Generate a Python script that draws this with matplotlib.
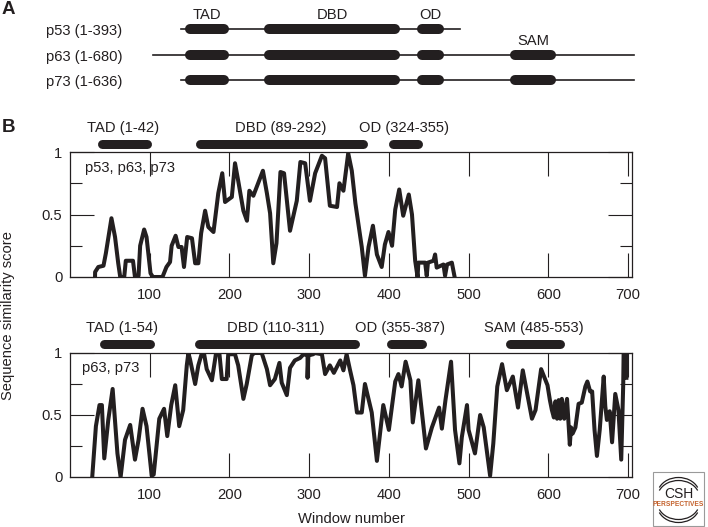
import numpy as np
import matplotlib
matplotlib.use("Agg")
import matplotlib.pyplot as plt
from matplotlib.patches import Rectangle, Arc

plt.rcParams['font.family'] = ['Liberation Sans', 'DejaVu Sans']
INK = '#231f20'
W, H = 708, 527

# Panel B series
x_all = [31.4,31.5,35.5,42,45,49,52,56.5,60.5,63,68,70,79,81.5,86,88,93,96,101,104,116,121,125.5,127.5,132.5,136,140,143,147,153,157,161,164.5,169.5,173.5,180,186,191,194.5,203,207,211,217.5,222,225,230,236,242,247,251,255,259,264,268.5,276,284.5,289,295,301,307.5,316,320,326,335,338,343,349,353.5,358,366,370,374.5,380,385,391,395,399.5,404,408,413,418,425,429,433,436,437,445.5,447.5,449,456,458,460,468.5,470.5,473,479,482.5]
y_all = [0,.04,.08,.09,.19,.35,.47,.32,.11,0,0,.13,.13,0,.01,.25,.38,.32,.03,0,0,.08,.12,.25,.33,.24,.24,.08,.32,.31,.11,.11,.35,.53,.40,.36,.67,.83,.60,.64,.91,.77,.53,.45,.69,.65,.75,.85,.67,.51,.11,.27,.84,.83,.37,.61,.92,.91,.61,.83,.97,.95,.57,.56,.75,.69,.99,.85,.59,.24,.01,.24,.41,.18,.08,.26,.36,.25,.54,.70,.49,.66,.50,.13,0,.115,.115,.01,.115,.13,.18,.075,.10,.01,.10,.115,0]

x_pair = [28,32.5,37,40,43,48,53.5,59.5,63.5,69,75.5,81.5,86,91,96,102.5,105,112,118,122,127,132,137,142,146.5,148.5,150.5,157,161,165,168,171.5,178,183,187.5,190.5,196.5,198.5,207,211,217.5,221.7,228,231,240.5,243,247,251,257,262.7,265.6,272,276,282,288.6,293,298,298,299,305,307,316,320,326,331,339,343,347,351,355.6,360,366,370,378.5,385,393,400,408,412,416,421,427,430,437,446.5,454,463,466.5,471,478,483,488.5,491.5,498,500,508,514.5,519,527,531,536,542,548,555.5,562,568,579.5,584,591,599,602,604.5,607,609,611,613,615,617,620,623.5,627,628.5,630.5,634,638,642,646.5,649,652.5,655,658,661,664.5,669.5,671.5,673.5,677,680,684,688,691.5,694,694.5,698,698]
y_pair = [.01,.41,.58,.58,.15,.46,.71,.19,0,.30,.42,.14,.30,.55,.41,.01,.02,.47,.55,.33,.58,.74,.41,.54,.90,1,.95,.75,.90,.99,1,.87,.78,.99,.99,.79,.79,.99,.99,.90,.63,.75,.98,1,1,.95,.87,.74,.79,.92,.76,.66,.88,.94,.96,.99,.98,.80,.98,.99,1,.99,.83,.90,.84,.94,.86,.99,.87,.74,.52,.52,.75,.52,.13,.58,.38,.77,.83,.73,.93,.78,.44,.78,.23,.40,.56,.39,.62,.93,.38,.11,.32,.58,.38,.19,.50,.40,.01,.27,.73,.91,.70,.81,.56,.86,.47,.54,.87,.74,.62,.54,.48,.61,.47,.62,.47,.63,.47,.63,.26,.40,.35,.40,.59,.60,.73,.77,.69,.69,.38,.17,.38,.81,.57,.46,.53,.28,.67,.54,.14,.75,1,1,.8]

major_x = [100, 200, 300, 400, 500, 600, 700]
minor_x_top = [150, 250, 350, 450, 550, 650]
minor_x_bottom = [50, 150, 250, 350, 450, 550, 650]
y_major = [0, 0.5, 1]
y_labels = ['0', '0.5', '1']
y_minor = [0.25, 0.75]

# Panel A content: (name, line start, line end) in page pixels
proteins = ['p53 (1-393)', 'p63 (1-680)', 'p73 (1-636)']
protein_y = [29, 55, 80]
line_start = [181, 153, 181]
line_end = [460, 634, 634]
domains_a = {'TAD': (185, 229), 'DBD': (264, 400), 'OD': (417, 444)}
sam_a = (510, 556)

# Domain bars above panel B plots
bars_1 = [('TAD (1-42)', 97, 151, 123), ('DBD (89-292)', 195, 367, 281), ('OD (324-355)', 388, 422, 404)]
bars_2 = [('TAD (1-54)', 99, 154, 122), ('DBD (110-311)', 194, 359, 276),
          ('OD (355-387)', 386, 426, 400), ('SAM (485-553)', 505, 564, 534)]

fig = plt.figure(figsize=(W/100, H/100), dpi=100)
px = 72/100
FS = 10.6

def make_axes(top, bottom, xs, ys, minor_bottom):
    ax = fig.add_axes([70/W, 1-bottom/H, 562/W, (bottom-top)/H])
    ax.plot(xs, ys, color=INK, lw=2.9, solid_joinstyle='round')
    ax.set_xlim(0, 705)
    ax.set_ylim(0, 1)
    ax.set_xticks(major_x)
    ax.set_xticks(sorted(set(minor_bottom) | set(minor_x_top)), minor=True)
    ax.set_yticks(y_major, y_labels)
    ax.set_yticks(y_minor, minor=True)
    ax.tick_params(axis='x', which='major', direction='in', length=24*px, width=0.8, top=True, color=INK,
                   labelsize=FS, labelcolor=INK, pad=8)
    ax.tick_params(axis='x', which='minor', direction='in', length=12*px, width=0.8, top=True, color=INK)
    ax.tick_params(axis='y', which='major', direction='in', length=24*px, width=0.8, right=True, color=INK,
                   labelsize=FS, labelcolor=INK, pad=5.5)
    ax.tick_params(axis='y', which='minor', direction='in', length=12*px, width=0.8, right=True, color=INK)
    for t in ax.xaxis.get_major_ticks():
        if t.get_loc() == 100:
            t.tick1line.set_visible(False)
            t.tick2line.set_visible(False)
    for t in ax.xaxis.get_minor_ticks():
        if t.get_loc() not in minor_bottom:
            t.tick1line.set_visible(False)
        if t.get_loc() not in minor_x_top:
            t.tick2line.set_visible(False)
    for s in ax.spines.values():
        s.set_color(INK)
        s.set_linewidth(0.9)
    ax.patch.set_alpha(0)
    return ax

make_axes(152, 277, x_all, y_all, minor_x_top)
make_axes(353, 477, x_pair, y_pair, minor_x_bottom)

# Page-pixel overlay
ov = fig.add_axes([0, 0, 1, 1])
ov.set_xlim(0, W)
ov.set_ylim(H, 0)
ov.axis('off')
ov.patch.set_alpha(0)

def bar(x0, x1, y, h=9):
    ov.plot([x0+h/2, x1-h/2], [y, y], color=INK, lw=h*px, solid_capstyle='round')

def txt(x, y, s, size=FS, ha='center', **kw):
    ov.text(x, y, s, fontsize=size, ha=ha, va='center', color=INK, **kw)

txt(2, 9, 'A', size=13.5, ha='left', fontweight='bold')
txt(2, 128, 'B', size=13.5, ha='left', fontweight='bold')
for name, y, a, b in zip(proteins, protein_y, line_start, line_end):
    txt(46, y+2, name, ha='left')
    ov.plot([a, b], [y, y], color=INK, lw=1.2)
    for d0, d1 in domains_a.values():
        bar(d0, d1, y, h=10)
for y in protein_y[1:]:
    bar(sam_a[0], sam_a[1], y, h=10)
for name, (d0, d1) in domains_a.items():
    txt((d0+d1)/2, 15, name)
txt(533, 41, 'SAM')

for name, a, b, c in bars_1:
    bar(a, b, 144)
    txt(c, 128, name)
for name, a, b, c in bars_2:
    bar(a, b, 344)
    txt(c, 328, name)

txt(85, 168, 'p53, p63, p73', ha='left')
txt(82, 368, 'p63, p73', ha='left')
txt(351, 519, 'Window number')
txt(8, 316, 'Sequence similarity score', rotation=90)

# Journal logo
ov.add_patch(Rectangle((653, 472), 51, 54, fill=False, ec='#9a9a9a', lw=0.8))
for cy, th0, th1 in [(496, 200, 340), (504, 20, 160)]:
    for off in (0, 3):
        ov.add_patch(Arc((678.5, cy+off-1.5), 42, 34, theta1=th0, theta2=th1, color=INK, lw=0.9))
txt(678.5, 494, 'CSH', size=10)
ov.text(678.5, 504, 'PERSPECTIVES', fontsize=4.8, ha='center', va='center', color='#c4622d', fontweight='bold')

fig.savefig('out.png', dpi=100)
